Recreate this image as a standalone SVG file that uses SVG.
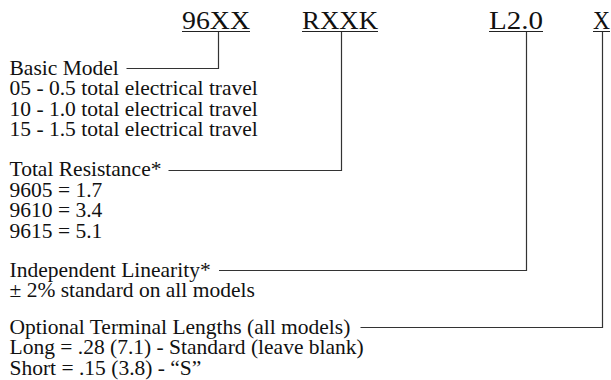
<svg xmlns="http://www.w3.org/2000/svg" width="611" height="380" viewBox="0 0 611 380">
  <style>
    .code { font-family: "Liberation Serif", "Times New Roman", serif; font-size: 26px; fill: #111; }
    .txt { font-family: "Liberation Serif", "Times New Roman", serif; font-size: 21.5px; fill: #111; }
    .ul { stroke: #222; stroke-width: 1; fill: none; }
    .conn { stroke: #333; stroke-width: 1.2; fill: none; }
  </style>
  <rect width="611" height="380" fill="#fff"/>

  <g id="code-96XX">
    <text class="code" x="182" y="29" textLength="68" lengthAdjust="spacingAndGlyphs">96XX</text>
    <line class="ul" x1="182" y1="31.5" x2="250" y2="31.5"/>
  </g>
  <g id="code-RXXK">
    <text class="code" x="302" y="29" textLength="76" lengthAdjust="spacingAndGlyphs">RXXK</text>
    <line class="ul" x1="302" y1="31.5" x2="378" y2="31.5"/>
  </g>
  <g id="code-L20">
    <text class="code" x="489" y="29" textLength="54" lengthAdjust="spacingAndGlyphs">L2.0</text>
    <line class="ul" x1="489" y1="31.5" x2="543" y2="31.5"/>
  </g>
  <g id="code-X">
    <text class="code" x="593" y="29" textLength="17" lengthAdjust="spacingAndGlyphs">X</text>
    <line class="ul" x1="593" y1="31.5" x2="610" y2="31.5"/>
  </g>

  <g id="basic-model">
    <text class="txt" x="9.5" y="74.5">Basic Model<tspan x="9.5" dy="20.5">05 - 0.5 total electrical travel</tspan><tspan x="9.5" dy="20.5">10 - 1.0 total electrical travel</tspan><tspan x="9.5" dy="20.5">15 - 1.5 total electrical travel</tspan></text>
  </g>
  <g id="total-resistance">
    <text class="txt" x="9.5" y="176">Total Resistance*<tspan x="9.5" dy="20.5">9605 = 1.7</tspan><tspan x="9.5" dy="20.5">9610 = 3.4</tspan><tspan x="9.5" dy="20.5">9615 = 5.1</tspan></text>
  </g>
  <g id="linearity">
    <text class="txt" x="9.5" y="276.5">Independent Linearity*<tspan x="9.5" dy="20.5">± 2% standard on all models</tspan></text>
  </g>
  <g id="terminal-lengths">
    <text class="txt" x="9.5" y="333.5">Optional Terminal Lengths (all models)<tspan x="9.5" dy="20.5">Long = .28 (7.1) - Standard (leave blank)</tspan><tspan x="9.5" dy="20.5">Short = .15 (3.8) - “S”</tspan></text>
  </g>

  <g id="connectors">
    <polyline class="conn" points="218.5,32 218.5,68.5 126.5,68.5"/>
    <polyline class="conn" points="341.5,32 341.5,170.5 168.5,170.5"/>
    <polyline class="conn" points="526.5,32 526.5,270.5 219,270.5"/>
    <polyline class="conn" points="602.5,32 602.5,327.5 360.5,327.5"/>
  </g>
</svg>
